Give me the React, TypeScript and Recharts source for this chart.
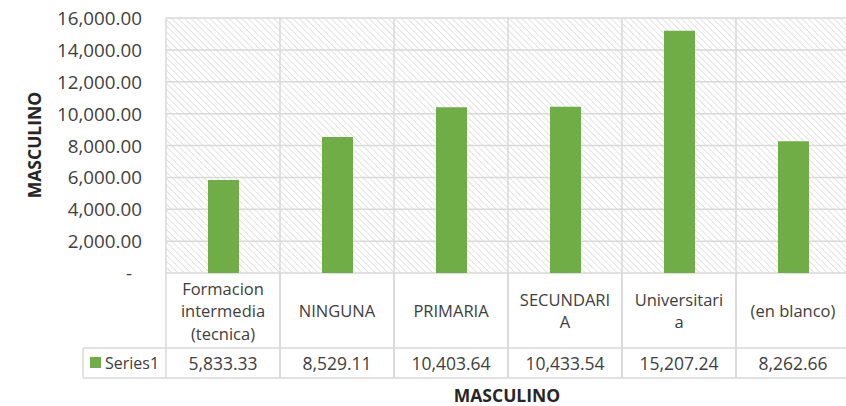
import { BarChart, Bar, XAxis, YAxis, CartesianGrid } from 'recharts'

// Excel-style column chart with data table underneath
const categories = ['Formacion intermedia (tecnica)', 'NINGUNA', 'PRIMARIA', 'SECUNDARIA', 'Universitaria', '(en blanco)']
const categoryLines = [
  ['Formacion', 'intermedia', '(tecnica)'],
  ['NINGUNA'],
  ['PRIMARIA'],
  ['SECUNDARI', 'A'],
  ['Universitari', 'a'],
  ['(en blanco)'],
]
const values = [5833.33, 8529.11, 10403.64, 10433.54, 15207.24, 8262.66]
const yTicks = [0, 2000, 4000, 6000, 8000, 10000, 12000, 14000, 16000]
const seriesName = 'Series1'
const axisTitle = 'MASCULINO'

const data = categories.map((c, i) => ({ category: c, value: values[i] }))

const FONT = '"Open Sans", "Noto Sans", sans-serif'
const GRID = '#d9d9d9'
const TEXT = '#404040'
const GREEN = '#70ad47'

const fmt = (v: number) =>
  v.toLocaleString('en-US', { minimumFractionDigits: 2, maximumFractionDigits: 2 })

function YTick(props: any) {
  const { x, y, payload } = props
  const zero = payload.value === 0
  return (
    <text
      x={zero ? x - 10 : x}
      y={y}
      textAnchor="end"
      dominantBaseline="central"
      fontFamily={FONT}
      fontSize={18.8}
      fill={TEXT}
    >
      {zero ? '-' : fmt(payload.value)}
    </text>
  )
}

function TableTick(props: any) {
  const { x, y, payload, index, visibleTicksCount, width } = props
  const half = payload.offset || width / visibleTicksCount / 2
  const left = x - half
  const right = x + half
  const lines = categoryLines[index] || [String(payload.value)]
  const lh = 22.5
  const catMid = y + 37.5
  const start = catMid - ((lines.length - 1) * lh) / 2
  const line = { stroke: GRID, strokeWidth: 1.5 }
  return (
    <g>
      <line x1={left} y1={y} x2={left} y2={y + 105} {...line} />
      <line x1={right} y1={y} x2={right} y2={y + 105} {...line} />
      <line x1={left} y1={y + 75} x2={right} y2={y + 75} {...line} />
      <line x1={left} y1={y + 105} x2={right} y2={y + 105} {...line} />
      {lines.map((t, i) => (
        <text
          key={i}
          x={x}
          y={start + i * lh}
          textAnchor="middle"
          dominantBaseline="central"
          fontFamily={FONT}
          fontSize={16.5}
          fill={TEXT}
        >
          {t}
        </text>
      ))}
      <text
        x={x}
        y={y + 90}
        textAnchor="middle"
        dominantBaseline="central"
        fontFamily={FONT}
        fontSize={17.5}
        fill={TEXT}
      >
        {fmt(values[index])}
      </text>
      {index === 0 && (
        <g>
          <line x1={83} y1={y + 75} x2={left} y2={y + 75} {...line} />
          <line x1={83} y1={y + 105} x2={left} y2={y + 105} {...line} />
          <line x1={83} y1={y + 75} x2={83} y2={y + 105} {...line} />
          <rect x={90} y={y + 84} width={11} height={11} fill={GREEN} />
          <text
            x={105}
            y={y + 90}
            dominantBaseline="central"
            fontFamily={FONT}
            fontSize={16}
            fill={TEXT}
          >
            {seriesName}
          </text>
        </g>
      )}
    </g>
  )
}

export default function App() {
  return (
    <div style={{ position: 'absolute', left: 0, top: 0, width: 846, height: 406, overflow: 'hidden', background: '#fff' }}>
      <BarChart
        width={852}
        height={406}
        data={data}
        margin={{ top: 18, right: 2, bottom: 0, left: 0 }}
      >
        <defs>
          <pattern id="hatch" width="4.5" height="4.5" patternUnits="userSpaceOnUse" patternTransform="rotate(-45)">
            <rect width="4.5" height="4.5" fill="#fff" />
            <line x1="0" y1="0" x2="0" y2="4.5" stroke="#dcdcdc" strokeWidth="1.6" />
          </pattern>
        </defs>
        <CartesianGrid
          fill="url(#hatch)"
          fillOpacity={1}
          stroke={GRID}
          strokeWidth={1.5}
          verticalCoordinatesGenerator={({ offset }: any) =>
            categories.map((_, i) => offset.left + (i * offset.width) / categories.length).concat(offset.left + offset.width)
          }
        />
        <XAxis
          dataKey="category"
          height={133}
          interval={0}
          tickLine={false}
          axisLine={false}
          tickSize={0}
          tickMargin={0}
          tick={<TableTick />}
        />
        <YAxis
          width={166}
          domain={[0, 16000]}
          ticks={yTicks}
          interval={0}
          tickLine={false}
          axisLine={false}
          tickSize={0}
          tickMargin={24}
          tick={<YTick />}
        />
        <Bar dataKey="value" fill={GREEN} barSize={31} isAnimationActive={false} />
        <text
          x={507}
          y={402}
          textAnchor="middle"
          fontFamily={FONT}
          fontWeight="bold"
          fontSize={17.5}
          fill="#262626"
        >
          {axisTitle}
        </text>
        <text
          x={41}
          y={145}
          textAnchor="middle"
          transform="rotate(-90, 41, 145)"
          fontFamily={FONT}
          fontWeight="bold"
          fontSize={17.5}
          fill="#262626"
        >
          {axisTitle}
        </text>
      </BarChart>
    </div>
  )
}
